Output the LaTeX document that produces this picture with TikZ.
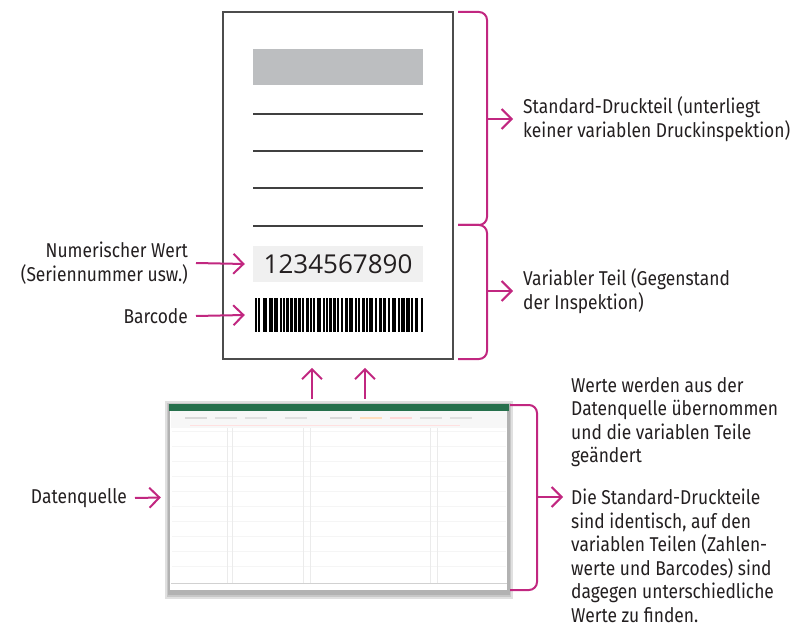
\documentclass[tikz,border=0pt]{standalone}
\usepackage{fontspec}
\setmainfont[FakeStretch=0.87]{Fira Sans}
\newfontfamily\numfont{Open Sans}
\usepackage{tikz}
\usetikzlibrary{arrows.meta,positioning}
\definecolor{mag}{RGB}{193,39,128}
\definecolor{ink}{RGB}{35,31,32}
\definecolor{xlgreen}{RGB}{38,112,76}

\begin{document}
\begin{tikzpicture}[x=1pt, y=-1pt,
		txt/.style={font=\fontsize{20}{23.5}\selectfont, text=ink, inner sep=0pt},  % Beschriftung
		pagebox/.style={rectangle, draw=black!70, line width=1.3pt, fill=white, minimum width=230pt, minimum height=347pt},
		fieldbox/.style={rectangle, minimum width=170pt, minimum height=36pt, inner sep=0pt},
		rule/.style={draw=black!75, line width=1.3pt},
		brk/.style={draw=mag, line width=2pt, rounded corners=8pt},
		arr/.style={-{Straight Barb[length=10pt, width=20pt]}, draw=mag, line width=2pt}
		]
		\useasboundingbox (0,0) rectangle (811,628);
		% Etikett
		\node[pagebox] (page) at (338,185.5) {};
		\node[fieldbox, fill={rgb,255:red,188;green,190;blue,192}] (head) at (338,67) {};
		\foreach \y in {114,151,188,226}
			\draw[rule] (253,\y) -- (423,\y);
		\node[fieldbox, fill=black!6, font=\numfont\fontsize{26}{26}\selectfont, text=ink] (num) at (338,264) {1234567890};
		\node[fieldbox, minimum width=168pt, minimum height=34pt] (bar) at (339,315) {};
		\foreach \x/\w in {0/1.5, 3/1.5, 8/4, 14/3.5, 19/3.5, 25/1.5, 28/1.5, 31/2.5, 35/2.5, 39/3,
				43/3, 47/1.5, 51/2.5, 55/1.5, 58/1.5, 62/4, 68/1.5, 71/1.5, 74/2.5, 78/2.5,
				82/1.5, 86/1.5, 90/2.5, 94/4, 100/1.5, 103/1.5, 107/2.5, 111/1.5, 114/3.5, 120/1.5,
				124/3, 128/3, 133/2, 137/4, 143/1.5, 146/3.5, 151/3.5, 156/1.5, 160/3, 165.5/2.5}
			\fill[black] (255+\x,298) rectangle ++(\w,34);
		% Datenquelle (Tabelle)
		\fill[black!12] (165,401) rectangle (513,599);
		\fill[black!22] (167,403) rectangle (511,597);
		\fill[black!30] (168,404) rectangle (510,595);
		\node[rectangle, fill=white, minimum width=337pt, minimum height=185pt, inner sep=0pt] (sheet) at (338.5,497.5) {};
		\fill[xlgreen] (169,404) rectangle (509,411);
		\fill[black!3] (171,411) rectangle (507,428);
		\foreach \x/\c in {185/black!15, 215/black!12, 245/black!12, 285/black!12, 330/black!15, 360/orange!25, 390/red!15, 420/black!12, 450/black!12}
			\draw[\c, line width=1.2pt] (\x,418) -- ++(22,0);
		\draw[red!12, line width=0.8pt] (190,425) -- (460,425);
		\foreach \y in {431,446,461,476,491,506,521,536,551,566}
			\draw[black!4] (172,\y) -- (506,\y);
		\foreach \x in {227,232,303,310,430,437}
			\draw[black!8] (\x,428) -- (\x,583);
		\draw[black!18] (171,583) -- (507,583);
		% Klammern
		\draw[brk] (458,12) -- (487,12) -- (487,225) -- (458,225);
		\draw[brk] (458,225) -- (487,225) -- (487,359) -- (458,359);
		\draw[brk] (510,405) -- (537,405) -- (537,590) -- (510,590);
		% Texte
		\node[txt, anchor=west, align=left] (std) at (523,119) {Standard-Druckteil (unterliegt\\keiner variablen Druckinspektion)};
		\node[txt, anchor=west, align=left] (var) at (523,291) {Variabler Teil (Gegenstand\\der Inspektion)};
		\node[txt, anchor=east, align=right] (lblnum) at (188,263) {Numerischer Wert\\(Seriennummer usw.)};
		\node[txt, anchor=east] (lblbar) at (188,316) {Barcode};
		\node[txt, anchor=east] (lblsrc) at (127,498) {Datenquelle};
		\node[txt, anchor=north west, align=left] (werte) at (571,377) {Werte werden aus der\\Datenquelle übernommen\\und die variablen Teile\\geändert};
		\node[txt, anchor=north west, align=left] (diff) at (571,489) {Die Standard-Druckteile\\sind identisch, auf den\\variablen Teilen (Zahlen-\\werte und Barcodes) sind\\dagegen unterschiedliche\\Werte zu finden.};
		% Pfeile
		\draw[arr] ([xshift=8pt]lblnum.east) -- ([xshift=-8pt]num.west);
		\draw[arr] ([xshift=8pt]lblbar.east) -- ([xshift=-10pt]bar.west);
		\draw[arr] ([xshift=8pt]lblsrc.east) -- ([xshift=-9pt]sheet.west);
		\draw[arr] (487,119) -- ([xshift=-10pt]std.west);
		\draw[arr] (487,291) -- ([xshift=-10pt]var.west);
		\coordinate (dtip) at (563,497);
		\draw[arr] (537,497) -- (dtip);
		\draw[arr] ([xshift=-26.5pt,yshift=6pt]sheet.north) -- ++(0,-31);
		\draw[arr] ([xshift=26.5pt,yshift=6pt]sheet.north) -- ++(0,-31);
	\end{tikzpicture}
\end{document}
